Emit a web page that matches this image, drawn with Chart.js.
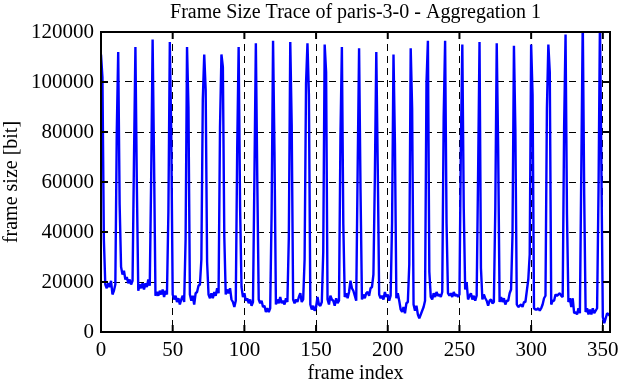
<!DOCTYPE html>
<html>
<head>
<meta charset="utf-8">
<script src="https://cdn.jsdelivr.net/npm/chart.js@4.4.1/dist/chart.umd.min.js"></script>
<style>
  html, body { margin: 0; padding: 0; background: #fff; }
  #wrap { width: 619px; height: 382px; }
</style>
</head>
<body>
<div id="wrap"><canvas id="trace" width="619" height="382"></canvas></div>
<script>
const chartTitle = 'Frame Size Trace of paris-3-0 - Aggregation 1';
const xTitle = 'frame index';
const yTitle = 'frame size [bit]';

// frame sizes in bit, frame 0..355
const frameSizes = [
  111000, 102000, 37000, 19000, 17500, 19500, 18000, 20500, 15000, 16500, 19000, 80000,
  112000, 51000, 26000, 23000, 24500, 21000, 22000, 19500, 21000, 19000, 20500, 69000,
  114000, 59000, 16500, 19000, 17500, 19500, 17000, 19500, 18000, 21000, 18500, 62000,
  117000, 68000, 14500, 16000, 14500, 16500, 15000, 17000, 14000, 16500, 15000, 48000,
  116000, 79000, 15000, 13000, 14500, 12000, 13500, 11000, 13000, 14500, 12000, 37000,
  114000, 90000, 15000, 12500, 14500, 11000, 15500, 16000, 18500, 19000, 29000, 93000,
  111000, 97000, 28000, 15000, 13500, 15500, 13500, 16000, 14500, 17500, 15500, 82000,
  111000, 106000, 38000, 15000, 17000, 15500, 17500, 13000, 12000, 10000, 12500, 73500,
  114000, 50000, 18000, 14000, 15500, 12500, 13500, 11500, 13000, 10500, 12000, 62000,
  115500, 61000, 13000, 11500, 12500, 10000, 10500, 8000, 9500, 8000, 9500, 48000,
  116500, 72000, 11000, 13000, 11500, 14000, 11500, 12500, 11000, 13500, 12000, 38000,
  116000, 83000, 13000, 11500, 13000, 12000, 14000, 15500, 12000, 13000, 29000, 99500,
  115500, 95000, 11000, 9000, 10500, 8500, 10000, 14000, 11000, 10500, 12000, 32000,
  115000, 104000, 13000, 11000, 14500, 13000, 12500, 10500, 13500, 11500, 12500, 78000,
  114000, 43000, 14000, 15500, 13500, 16000, 20500, 17500, 16500, 14500, 12500, 65000,
  113500, 57000, 13000, 15000, 13500, 15500, 16000, 14500, 17500, 18000, 23000, 62000,
  112000, 67000, 15000, 13500, 14500, 13000, 16000, 14000, 15000, 12500, 14500, 43500,
  111000, 75500, 13500, 15500, 12500, 9000, 8000, 10000, 7500, 11500, 12000, 27000,
  113500, 89500, 11000, 8500, 10500, 7000, 5500, 7000, 8500, 10000, 12500, 99500,
  116500, 24000, 14000, 13000, 15500, 14000, 16000, 14500, 15000, 14000, 16000, 86000,
  116500, 43500, 15500, 14500, 15500, 14000, 16000, 14500, 15000, 14000, 15000, 75000,
  115000, 49500, 17000, 20000, 13000, 14500, 15500, 13000, 14500, 12500, 14500, 63000,
  116000, 25500, 13000, 15000, 13500, 12500, 10500, 12500, 13000, 11500, 12000, 49500,
  115500, 73000, 12000, 14000, 12000, 13500, 11000, 12500, 12500, 15500, 17000, 39000,
  114500, 81000, 11000, 10000, 10500, 11000, 10000, 12000, 12000, 16500, 21000, 31000,
  115000, 95000, 9500, 9000, 9000, 9500, 8500, 9500, 11000, 13500, 14500, 89500,
  115000, 104000, 11000, 12500, 12500, 15000, 14500, 15000, 15500, 14500, 14000, 82000,
  119000, 47000, 12000, 13500, 10000, 13500, 7500, 8000, 7000, 9500, 7500, 66000,
  125000, 55000, 8000, 9500, 7000, 9000, 7000, 9500, 7500, 8500, 9500, 57000,
  125000, 65000, 6000, 3500, 5500, 7500, 7000, 6500
];

const xTicks = [0, 50, 100, 150, 200, 250, 300, 350];
const yTicks = [0, 20000, 40000, 60000, 80000, 100000, 120000];
const xMax = 355;
const yMax = 120000;

Chart.defaults.font.family = '"Liberation Serif", "Times New Roman", serif';
Chart.defaults.font.size = 20;
Chart.defaults.color = '#000';

// gnuplot style border with inward ticks on all four sides
const framePlugin = {
  id: 'frame',
  afterDraw(chart) {
    const { ctx, chartArea: a, scales } = chart;
    const len = 7;
    ctx.save();
    ctx.strokeStyle = '#000';
    ctx.lineWidth = 2;
    ctx.beginPath();
    scales.x.ticks.forEach(t => {
      const px = scales.x.getPixelForValue(t.value);
      ctx.moveTo(px, a.bottom); ctx.lineTo(px, a.bottom - len);
      ctx.moveTo(px, a.top); ctx.lineTo(px, a.top + len);
    });
    scales.y.ticks.forEach(t => {
      const py = scales.y.getPixelForValue(t.value);
      ctx.moveTo(a.left, py); ctx.lineTo(a.left + len, py);
      ctx.moveTo(a.right, py); ctx.lineTo(a.right - len, py);
    });
    ctx.stroke();
    ctx.strokeRect(a.left, a.top, a.right - a.left, a.bottom - a.top);
    ctx.restore();
  }
};

const gridStyle = { color: '#000', lineWidth: 1, drawTicks: false };

new Chart(document.getElementById('trace'), {
  type: 'line',
  data: {
    datasets: [{
      data: frameSizes.map((v, i) => ({ x: i, y: v })),
      borderColor: '#0000ff',
      borderWidth: 2.4,
      borderJoinStyle: 'bevel',
      pointRadius: 0,
      tension: 0
    }]
  },
  options: {
    responsive: false,
    animation: false,
    layout: { padding: { left: 0, right: 9, top: 0, bottom: 0 } },
    plugins: {
      legend: { display: false },
      tooltip: { enabled: false },
      title: {
        display: true,
        fullSize: false,
        text: chartTitle,
        font: { size: 20, weight: 'normal' },
        padding: { top: 1, bottom: 7 }
      }
    },
    scales: {
      x: {
        type: 'linear',
        min: 0,
        max: xMax,
        z: 1,
        afterBuildTicks: s => { s.ticks = xTicks.map(v => ({ value: v })); },
        afterFit: s => { s.height = 50; s.paddingLeft = 0; s.paddingRight = 0; },
        ticks: { padding: 6, maxRotation: 0, font: { size: 21 }, callback: v => String(v) },
        grid: gridStyle,
        border: { display: false, dash: [7, 5] },
        title: { display: true, text: xTitle, font: { lineHeight: 0.8 }, padding: { top: 0, bottom: 0 } }
      },
      y: {
        min: 0,
        max: yMax,
        z: 1,
        afterBuildTicks: s => { s.ticks = yTicks.map(v => ({ value: v })); },
        afterFit: s => { s.width = 101; s.paddingTop = 0; s.paddingBottom = 0; },
        ticks: { padding: 7, font: { size: 21 }, callback: v => String(v) },
        grid: gridStyle,
        border: { display: false, dash: [7, 5] },
        title: { display: true, text: yTitle, padding: { top: 0, bottom: 0 } }
      }
    }
  },
  plugins: [framePlugin]
});
</script>
</body>
</html>
